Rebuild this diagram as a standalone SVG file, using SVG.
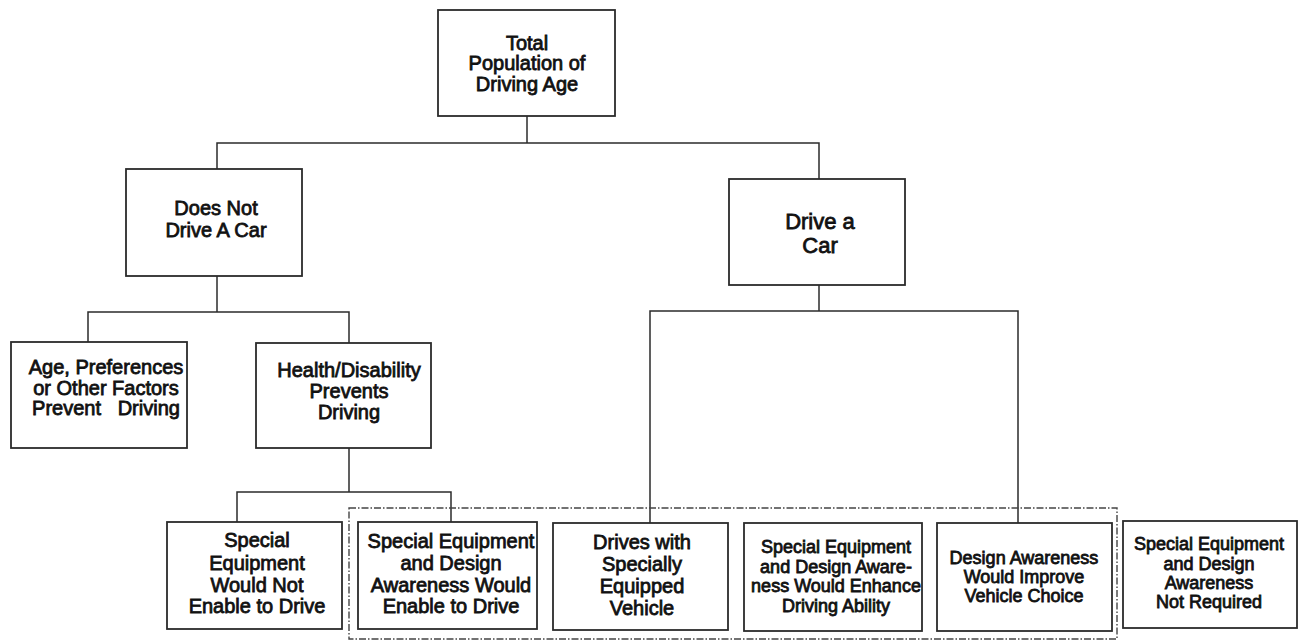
<svg xmlns="http://www.w3.org/2000/svg" width="1300" height="641" viewBox="0 0 1300 641">
<style>
  .box { fill: #fff; stroke: #2b2b2b; stroke-width: 1.8; }
  .ln { fill: none; stroke: #2b2b2b; stroke-width: 1.5; }
  .dash { fill: none; stroke: #444; stroke-width: 1.4; stroke-dasharray: 7 2 1.5 2; }
  text { font-family: "Liberation Sans", Arial, sans-serif; font-size: 20px; fill: #111; stroke: #111; stroke-width: 0.8; text-anchor: middle; }
  .s18 { font-size: 18px; }
  .s22 { font-size: 22px; }
</style>
<rect width="1300" height="641" fill="#fff"/>
<g id="connectors">
  <polyline class="ln" points="527,116 527,143"/>
  <polyline class="ln" points="217,169 217,143 819,143 819,179"/>
  <polyline class="ln" points="217,276 217,312"/>
  <polyline class="ln" points="88,342 88,312 349,312 349,343"/>
  <polyline class="ln" points="349,448 349,492"/>
  <polyline class="ln" points="237,522 237,492 451,492 451,522"/>
  <polyline class="ln" points="819,285 819,311"/>
  <polyline class="ln" points="650,523 650,311 1018,311 1018,523"/>
</g>
<rect id="group-frame" class="dash" x="349" y="508" width="768" height="131"/>
<g id="n-total">
  <rect class="box" x="438" y="10" width="177" height="106"/>
  <text x="527" y="50">Total</text>
  <text x="527" y="70">Population of</text>
  <text x="527" y="91">Driving Age</text>
</g>
<g id="n-notdrive">
  <rect class="box" x="126" y="169" width="176" height="107"/>
  <text x="216" y="215">Does Not</text>
  <text x="216" y="237">Drive A Car</text>
</g>
<g id="n-drive">
  <rect class="box" x="729" y="179" width="176" height="106"/>
  <text class="s22" x="820" y="229">Drive a</text>
  <text class="s22" x="820" y="253">Car</text>
</g>
<g id="n-age">
  <rect class="box" x="11" y="342" width="176" height="106"/>
  <text x="106" y="374">Age, Preferences</text>
  <text x="106" y="395">or Other Factors</text>
  <text x="106" y="415" xml:space="preserve">Prevent   Driving</text>
</g>
<g id="n-health">
  <rect class="box" x="256" y="343" width="175" height="105"/>
  <text x="349" y="377">Health/Disability</text>
  <text x="349" y="398">Prevents</text>
  <text x="349" y="419">Driving</text>
</g>
<g id="n-notenable">
  <rect class="box" x="167" y="522" width="175" height="107"/>
  <text x="257" y="547">Special</text>
  <text x="257" y="570">Equipment</text>
  <text x="257" y="592">Would Not</text>
  <text x="257" y="613">Enable to Drive</text>
</g>
<g id="n-enable">
  <rect class="box" x="358" y="522" width="179" height="107"/>
  <text x="451" y="548">Special Equipment</text>
  <text x="451" y="570">and Design</text>
  <text x="451" y="592">Awareness Would</text>
  <text x="451" y="613">Enable to Drive</text>
</g>
<g id="n-equipped">
  <rect class="box" x="553" y="523" width="175" height="107"/>
  <text x="642" y="549">Drives with</text>
  <text x="642" y="571">Specially</text>
  <text x="642" y="593">Equipped</text>
  <text x="642" y="615">Vehicle</text>
</g>
<g id="n-enhance">
  <rect class="box" x="744" y="523" width="178" height="108"/>
  <text class="s18" x="836" y="553">Special Equipment</text>
  <text class="s18" x="836" y="573">and Design Aware-</text>
  <text class="s18" x="836" y="592">ness Would Enhance</text>
  <text class="s18" x="836" y="612">Driving Ability</text>
</g>
<g id="n-choice">
  <rect class="box" x="937" y="523" width="175" height="108"/>
  <text class="s18" x="1024" y="564">Design Awareness</text>
  <text class="s18" x="1024" y="583">Would Improve</text>
  <text class="s18" x="1024" y="602">Vehicle Choice</text>
</g>
<g id="n-notrequired">
  <rect class="box" x="1123" y="521" width="174" height="107"/>
  <text class="s18" x="1209" y="550">Special Equipment</text>
  <text class="s18" x="1209" y="570">and Design</text>
  <text class="s18" x="1209" y="589">Awareness</text>
  <text class="s18" x="1209" y="608">Not Required</text>
</g>
</svg>
